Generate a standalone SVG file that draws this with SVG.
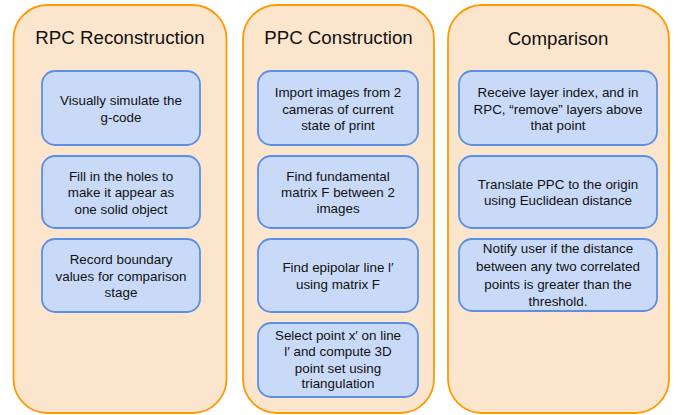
<svg xmlns="http://www.w3.org/2000/svg" width="683" height="415" viewBox="0 0 683 415">
  <style>
    .panel { fill: #fce5cd; stroke: #ff9900; stroke-width: 1.8; }
    .step { fill: #c9daf8; stroke: #5b8fe6; stroke-width: 1.8; }
    .title { font-family: "Liberation Sans", Arial, sans-serif; font-size: 18.7px; fill: #111111; text-anchor: middle; }
    .label { font-family: "Liberation Sans", Arial, sans-serif; font-size: 13.4px; fill: #111111; text-anchor: middle; }
  </style>
  <rect width="683" height="415" fill="#ffffff"/>

  <!-- RPC reconstruction column -->
  <g id="rpc-reconstruction">
    <rect class="panel" x="13.5" y="5" width="213" height="408" rx="34" ry="34"/>
    <text class="title" x="120" y="44">RPC Reconstruction</text>
  </g>
  <g id="rpc-simulate">
    <rect class="step" x="42" y="71" width="158" height="74" rx="13" ry="13"/>
    <text class="label" x="121" y="104.7">Visually simulate the</text>
    <text class="label" x="121" y="122">g-code</text>
  </g>
  <g id="rpc-fill">
    <rect class="step" x="42" y="156" width="158" height="72" rx="13" ry="13"/>
    <text class="label" x="121" y="180.7">Fill in the holes to</text>
    <text class="label" x="121" y="197.4">make it appear as</text>
    <text class="label" x="121" y="214">one solid object</text>
  </g>
  <g id="rpc-record">
    <rect class="step" x="42" y="239" width="158" height="73" rx="13" ry="13"/>
    <text class="label" x="121" y="264">Record boundary</text>
    <text class="label" x="121" y="280.7">values for comparison</text>
    <text class="label" x="121" y="297.4">stage</text>
  </g>

  <!-- PPC construction column -->
  <g id="ppc-construction">
    <rect class="panel" x="243" y="5" width="191" height="408" rx="34" ry="34"/>
    <text class="title" x="338.5" y="43.5">PPC Construction</text>
  </g>
  <g id="ppc-import">
    <rect class="step" x="258" y="71" width="160" height="74" rx="13" ry="13"/>
    <text class="label" x="338" y="97.4">Import images from 2</text>
    <text class="label" x="338" y="114">cameras of current</text>
    <text class="label" x="338" y="129.7">state of print</text>
  </g>
  <g id="ppc-fundamental">
    <rect class="step" x="258" y="156" width="160" height="72" rx="13" ry="13"/>
    <text class="label" x="338" y="180.7">Find fundamental</text>
    <text class="label" x="338" y="197.4">matrix F between 2</text>
    <text class="label" x="338" y="213">images</text>
  </g>
  <g id="ppc-epipolar">
    <rect class="step" x="258" y="239" width="160" height="73" rx="13" ry="13"/>
    <text class="label" x="338" y="272.4">Find epipolar line l′</text>
    <text class="label" x="338" y="289">using matrix F</text>
  </g>
  <g id="ppc-triangulate">
    <rect class="step" x="258" y="323" width="160" height="74" rx="13" ry="13"/>
    <text class="label" x="338" y="339.7">Select point x′ on line</text>
    <text class="label" x="338" y="356.4">l′ and compute 3D</text>
    <text class="label" x="338" y="373">point set using</text>
    <text class="label" x="338" y="388">triangulation</text>
  </g>

  <!-- Comparison column -->
  <g id="comparison">
    <rect class="panel" x="448" y="5" width="221" height="408" rx="34" ry="34"/>
    <text class="title" x="558" y="44.5">Comparison</text>
  </g>
  <g id="cmp-layers">
    <rect class="step" x="459" y="71" width="198" height="74" rx="13" ry="13"/>
    <text class="label" x="558" y="97.4">Receive layer index, and in</text>
    <text class="label" x="558" y="114">RPC, “remove” layers above</text>
    <text class="label" x="558" y="129.7">that point</text>
  </g>
  <g id="cmp-translate">
    <rect class="step" x="459" y="156" width="198" height="72" rx="13" ry="13"/>
    <text class="label" x="558" y="189">Translate PPC to the origin</text>
    <text class="label" x="558" y="204.7">using Euclidean distance</text>
  </g>
  <g id="cmp-notify">
    <rect class="step" x="459" y="239" width="198" height="72" rx="13" ry="13"/>
    <text class="label" x="558" y="253">Notify user if the distance</text>
    <text class="label" x="558" y="271.4">between any two correlated</text>
    <text class="label" x="558" y="289">points is greater than the</text>
    <text class="label" x="558" y="306.4">threshold.</text>
  </g>

  <!-- no connectors are drawn between the steps -->
  <g id="connectors"/>
</svg>
